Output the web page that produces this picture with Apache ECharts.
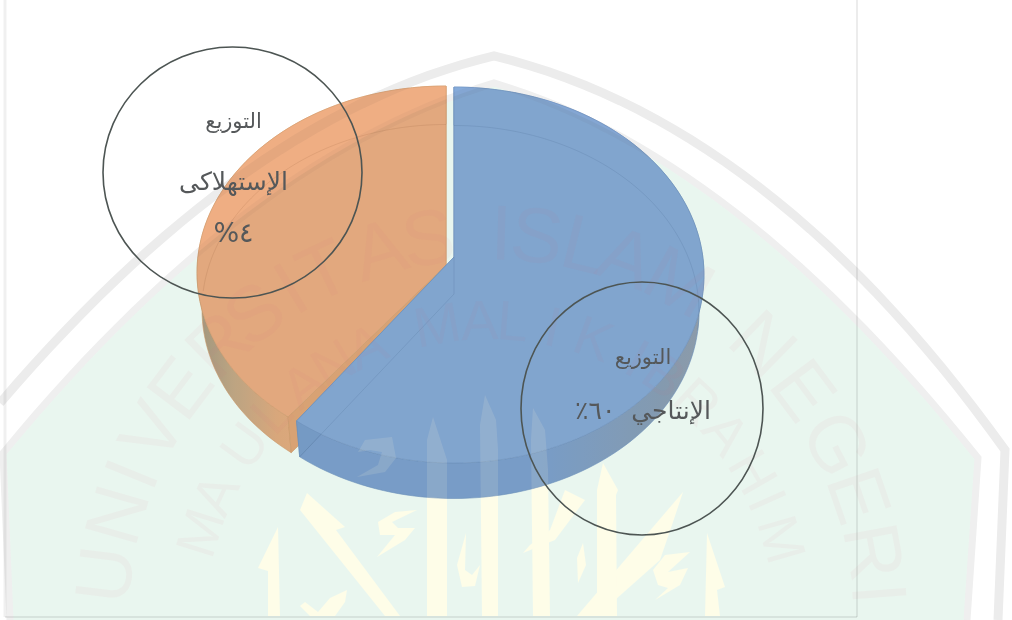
<!DOCTYPE html>
<html dir="rtl">
<head>
<meta charset="utf-8">
<style>
html,body{margin:0;padding:0;background:#fff;}
#main{width:1012px;height:620px;}
</style>
<script src="https://cdn.jsdelivr.net/npm/echarts@6/dist/echarts.min.js"></script>
</head>
<body>
<div id="main"></div>
<script>
// chart data
var categories = ['التوزيع الإنتاجي', 'التوزيع الإستهلاكي'];
var values = [60, 40];
var sliceColors = ['#86abda', '#efae83'];
var labelLines = [
  ['التوزيع', 'الإنتاجي  ٦٠٪'],
  ['التوزيع', 'الإستهلاكى', '٤%']
];
var watermarkTop = 'UNIVERSITAS ISLAM NEGERI';
var watermarkBottom = 'MAULANA MALIK IBRAHIM';

// layout of the tilted slices, the label rings and the scanned background
var sliceBox = [
  {cx: 454, cy: 275, apexY: 257, k: 0.0904, rx: 250, ry: 188},
  {cx: 446, cy: 272.6, apexY: 265, k: 0.1, rx: 249, ry: 186.6}
];
var depth = 37;
var wallStops = [
  [[0, '#7da2d2'], [0.6, '#7da2d2'], [0.9, '#8a9fb8'], [1, '#93a0b2']],
  [[0, '#a89b82'], [0.35, '#c6aa88'], [0.8, '#e6ad80'], [1, '#e8ae82']]
];
var wallRange = [[298, 703], [197, 300]];
var edgeColor = ['#6f93c2', '#d49c6c'];
var ringBox = [
  {cx: 642, cy: 408.5, rx: 121, ry: 126.5, lineY: [359, 412], lineSize: [21, 25]},
  {cx: 232.5, cy: 172.5, rx: 129.5, ry: 125.5, lineY: [123, 183, 235], lineSize: [21, 25, 27]}
];

// point on the rim for an angle counted clockwise from 12 o'clock
function rim(box, angle) {
  var s = Math.sin(angle), c = -Math.cos(angle);
  var k = box.k;
  var t = k * c + Math.sqrt(k * k * c * c + 1 - k * k);
  return [box.cx + box.rx * s * t, box.cy + box.ry * (c * t - k)];
}
function rimPoints(box, a0, a1) {
  var pts = [], n = Math.ceil(Math.abs(a1 - a0) / 0.03);
  for (var i = 0; i <= n; i++) {
    pts.push(rim(box, a0 + (a1 - a0) * i / n));
  }
  return pts;
}
function lowerBox(box) {
  return {cx: box.cx, cy: box.cy + depth, apexY: box.apexY + depth, k: box.k, rx: box.rx - 5, ry: box.ry - 1.5};
}

function renderSlice(params, api) {
  var i = params.dataIndex;
  var total = 0, before = 0;
  for (var j = 0; j < values.length; j++) {
    total += values[j];
    if (j < i) before += values[j];
  }
  var a0 = before / total * Math.PI * 2;
  var a1 = (before + api.value(0)) / total * Math.PI * 2;
  var box = sliceBox[i], low = lowerBox(box);
  var apex = [box.cx, box.apexY], lowApex = [low.cx, low.apexY];
  var order = i === 0 ? 10 : 1;
  var color = sliceColors[i];
  var wallFill = new echarts.graphic.LinearGradient(wallRange[i][0], 0, wallRange[i][1], 0,
    wallStops[i].map(function (s) { return {offset: s[0], color: s[1]}; }), true);

  var topRim = rimPoints(box, a0, a1);
  var lowRim = rimPoints(low, a0, a1);
  var children = [];
  // outer wall
  children.push({
    type: 'polygon', z2: order,
    shape: {points: topRim.concat(lowRim.slice().reverse())},
    style: {fill: wallFill, stroke: edgeColor[i], lineWidth: 0.6}
  });
  // cut walls
  [a0, a1].forEach(function (a) {
    children.push({
      type: 'polygon', z2: order,
      shape: {points: [apex, rim(box, a), rim(low, a), lowApex]},
      style: {fill: i === 0 ? '#7a9fcf' : '#e4a878', stroke: edgeColor[i], lineWidth: 0.6}
    });
  });
  // top face
  children.push({
    type: 'polygon', z2: order + 1,
    shape: {points: [apex].concat(topRim)},
    style: {fill: color, stroke: edgeColor[i], lineWidth: 0.5}
  });
  // far edge of the floor seen through the top
  var seen = i === 0 ? [0, Math.PI * 0.56] : [Math.PI * 1.5, Math.PI * 2];
  children.push({
    type: 'polyline', z2: order + 2,
    shape: {points: rimPoints(low, seen[0], seen[1])},
    style: {fill: null, stroke: i === 0 ? 'rgba(70,100,140,0.25)' : 'rgba(170,110,70,0.3)', lineWidth: 0.7}
  });
  // floor corner seen through the top
  if (i === 0) {
    children.push({
      type: 'polyline', z2: order + 2,
      shape: {points: [apex, lowApex, rim(low, a1)]},
      style: {fill: null, stroke: 'rgba(70,100,140,0.25)', lineWidth: 0.7}
    });
  }
  return {type: 'group', children: children};
}

function renderLabel(params) {
  var i = params.dataIndex, ring = ringBox[i];
  var children = [{
    type: 'ellipse',
    shape: {cx: ring.cx, cy: ring.cy, rx: ring.rx, ry: ring.ry},
    style: {fill: null, stroke: '#4d5553', lineWidth: 1.6}
  }];
  labelLines[i].forEach(function (line, n) {
    children.push({
      type: 'text',
      x: ring.cx + 1,
      y: ring.lineY[n],
      style: {
        text: line,
        align: 'center',
        verticalAlign: 'middle',
        font: ring.lineSize[n] + 'px "DejaVu Sans"',
        fill: '#55585a'
      }
    });
  });
  return {type: 'group', children: children};
}

// watermark geometry
function curve(p0, c, p1) {
  var pts = [];
  for (var i = 0; i <= 30; i++) {
    var t = i / 30, u = 1 - t;
    pts.push([u * u * p0[0] + 2 * u * t * c[0] + t * t * p1[0], u * u * p0[1] + 2 * u * t * c[1] + t * t * p1[1]]);
  }
  return pts;
}
var outerBand = curve([0, 403], [247, 114], [494, 56]).concat(curve([494, 56], [770, 122], [1005, 450]), [[998, 620]]);
var innerBand = [[10, 620]].concat(curve([3, 453], [248, 156], [494, 83]), curve([494, 83], [735, 154], [978, 458]), [[967, 620]]);

var callig = [
  [[278, 527], [258, 568], [268, 571], [268, 616], [280, 616]],
  [[307, 493], [345, 527], [336, 530], [400, 616], [385, 616], [300, 510]],
  [[433, 417], [427, 440], [427, 616], [447, 616], [447, 460]],
  [[485, 395], [480, 425], [482, 616], [498, 616], [498, 450], [496, 420]],
  [[533, 408], [531, 440], [533, 616], [550, 616], [548, 470], [545, 430]],
  [[603, 463], [597, 490], [597, 616], [617, 616], [616, 495], [618, 490]],
  [[707, 533], [705, 616], [720, 616], [717, 590], [725, 587]],
  [[683, 492], [577, 616], [597, 616], [660, 560], [672, 525]],
  [[565, 490], [585, 500], [555, 540], [523, 553], [530, 545], [550, 530]],
  [[417, 510], [395, 512], [378, 522], [380, 535], [395, 535], [377, 557], [405, 540], [415, 528], [398, 528], [392, 522]],
  [[690, 552], [665, 555], [653, 570], [658, 585], [668, 588], [655, 600], [680, 585], [688, 568], [668, 572]],
  [[466, 533], [457, 565], [462, 587], [475, 586], [480, 565], [472, 575], [465, 570]],
  [[583, 543], [577, 558], [578, 583], [586, 565]],
  [[347, 590], [330, 598], [318, 612], [305, 602], [300, 606], [310, 616], [335, 616], [345, 602]],
  [[392, 437], [365, 440], [358, 452], [370, 450], [382, 452], [378, 465], [357, 477], [385, 472], [396, 458]]
];

function watermarkElements() {
  var els = [];
  var shield = innerBand;
  // tint over the slices only
  els.push({type: 'polygon', z: 3, shape: {points: shield}, silent: true, style: {fill: 'rgba(60,90,60,0.07)', blend: 'source-atop'}});
  els.push({type: 'polyline', z: 3, shape: {points: outerBand}, silent: true, style: {fill: null, stroke: 'rgba(70,50,50,0.06)', lineWidth: 10, blend: 'source-atop'}});
  els.push({type: 'polyline', z: 3, shape: {points: innerBand}, silent: true, style: {fill: null, stroke: 'rgba(70,50,50,0.04)', lineWidth: 8, blend: 'source-atop'}});
  callig.forEach(function (p) {
    els.push({type: 'polygon', z: 3, shape: {points: p}, silent: true, style: {fill: 'rgba(255,250,215,0.13)', blend: 'source-atop'}});
  });

  // arc lettering, translucent so the backdrop added below shows through
  var topAngles = [-83, -74, -67.6, -60.7, -53, -44.4, -37.5, -31, -25.5, -16.7, -9.3, 0, 1.5, 6.8, 13.9, 20.4, 29, 0, 44.4, 53.4, 62.7, 71, 79.6, 85.8];
  var bottomAngles = [-72.5, -64.7, -54, -46, -38, -31, -24, 0, -10, -2, 4.3, 12, 20, 0, 29, 35, 43, 51, 60, 66, 73.8];
  function arc(text, angles, cx, cy, r, size) {
    text.split('').forEach(function (ch, i) {
      if (ch === ' ') return;
      var a = angles[i] * Math.PI / 180;
      els.push({
        type: 'text', z: 3, silent: true,
        x: cx + r * Math.sin(a),
        y: cy - r * Math.cos(a),
        rotation: -a,
        style: {text: ch, align: 'center', verticalAlign: 'middle', font: size + 'px "Liberation Sans"', fill: 'rgba(225,110,125,0.055)'}
      });
    });
  }
  arc(watermarkTop, topAngles, 491, 622, 384, 78);
  arc(watermarkBottom, bottomAngles, 490, 624, 300, 56);

  // everything else goes behind what is drawn already
  callig.forEach(function (p) {
    els.push({type: 'polygon', z: 4, shape: {points: p}, silent: true, style: {fill: '#fefde8', blend: 'destination-over'}});
  });
  els.push({type: 'polyline', z: 5, shape: {points: outerBand}, silent: true, style: {fill: null, stroke: '#ececec', lineWidth: 9, blend: 'destination-over'}});
  els.push({type: 'polyline', z: 5, shape: {points: innerBand}, silent: true, style: {fill: null, stroke: '#efefef', lineWidth: 7, blend: 'destination-over'}});
  els.push({type: 'polygon', z: 6, shape: {points: shield}, silent: true, style: {fill: '#e9f6ef', blend: 'destination-over'}});

  // page frame
  [[[5, 0], [5, 617]], [[857, 0], [857, 617]], [[5, 617], [857, 617]]].forEach(function (l, n) {
    els.push({
      type: 'polyline', z: 8, silent: true, shape: {points: l},
      style: {fill: null, stroke: n === 0 ? 'rgba(0,0,0,0.06)' : 'rgba(0,0,0,0.1)', lineWidth: n === 0 ? 3 : 1.5}
    });
  });
  return els;
}

var myChart = echarts.init(document.getElementById('main'));
var option = {
  backgroundColor: 'transparent',
  animation: false,
  graphic: {elements: watermarkElements()},
  series: [{
    type: 'custom',
    name: 'slices',
    coordinateSystem: 'none',
    z: 2,
    silent: true,
    renderItem: renderSlice,
    data: categories.map(function (c, i) { return {name: c, value: [values[i]]}; })
  }, {
    type: 'custom',
    name: 'labels',
    coordinateSystem: 'none',
    z: 10,
    silent: true,
    renderItem: renderLabel,
    data: categories.map(function (c, i) { return {name: c, value: [values[i]]}; })
  }]
};
myChart.setOption(option);
</script>
</body>
</html>
